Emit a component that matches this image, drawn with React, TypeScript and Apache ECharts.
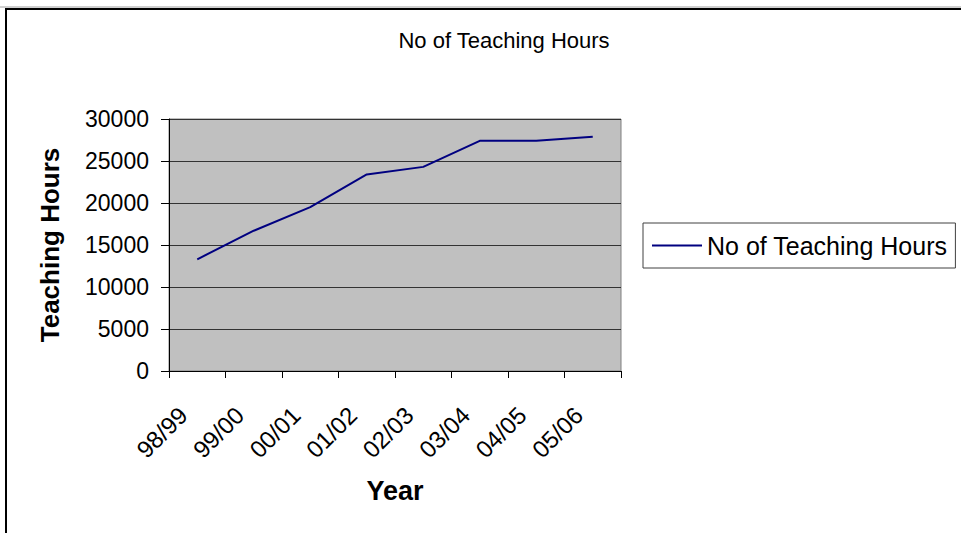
import React, { useEffect, useRef } from "react";
import * as echarts from "echarts";

const categories = ["98/99", "99/00", "00/01", "01/02", "02/03", "03/04", "04/05", "05/06"];
const teachingHours = [13300, 16700, 19500, 23400, 24300, 27400, 27400, 27900];
const seriesName = "No of Teaching Hours";
const chartTitle = "No of Teaching Hours";
const yAxisName = "Teaching Hours";
const xAxisName = "Year";

export default function App() {
  const ref = useRef<HTMLDivElement>(null);
  useEffect(() => {
    document.body.style.margin = "0";
    const chart = echarts.init(ref.current!, null, { renderer: "svg" });
    const font = "Arial, 'Liberation Sans', sans-serif";
    chart.setOption({
      animation: false,
      backgroundColor: "#ffffff",
      textStyle: { fontFamily: font },
      graphic: [
        { type: "line", shape: { x1: 0, y1: 7, x2: 961, y2: 7 }, style: { stroke: "#a0a0a0", lineWidth: 1 } },
        { type: "line", shape: { x1: 5, y1: 9, x2: 961, y2: 9 }, style: { stroke: "#000", lineWidth: 2 } },
        { type: "line", shape: { x1: 6, y1: 8, x2: 6, y2: 533 }, style: { stroke: "#000", lineWidth: 2 } },
        {
          type: "text",
          x: 504,
          y: 40,
          style: {
            text: chartTitle,
            font: `22px ${font}`,
            fill: "#000",
            align: "center",
            verticalAlign: "middle",
          },
        },
      ],
      legend: {
        left: 643,
        top: 223,
        padding: [10, 8, 10, 9],
        itemWidth: 50,
        itemHeight: 2,
        icon: "rect",
        borderColor: "#404040",
        borderWidth: 1,
        textStyle: { fontSize: 25, color: "#000", fontFamily: font, lineHeight: 24 },
        data: [seriesName],
      },
      grid: {
        left: 169,
        top: 119,
        width: 452,
        height: 252,
        show: true,
        backgroundColor: "#c0c0c0",
        borderColor: "#808080",
        borderWidth: 1,
        containLabel: false,
      },
      xAxis: {
        type: "category",
        data: categories,
        boundaryGap: true,
        name: xAxisName,
        nameLocation: "middle",
        nameGap: 106,
        nameTextStyle: { fontSize: 27, fontWeight: "bold", color: "#000", fontFamily: font },
        axisLine: { lineStyle: { color: "#000", width: 1 } },
        axisTick: { show: true, length: 7, lineStyle: { color: "#000" } },
        axisLabel: {
          rotate: 45,
          fontSize: 24,
          color: "#000",
          margin: 26,
          padding: [0, 20, 0, 0],
          interval: 0,
          fontFamily: font,
        },
        splitLine: { show: false },
      },
      yAxis: {
        type: "value",
        min: 0,
        max: 30000,
        interval: 5000,
        name: yAxisName,
        nameLocation: "middle",
        nameGap: 106,
        nameRotate: 90,
        nameTextStyle: { fontSize: 26, fontWeight: "bold", color: "#000", fontFamily: font },
        axisLine: { show: true, lineStyle: { color: "#000", width: 1 } },
        axisTick: { show: true, length: 8, lineStyle: { color: "#000" } },
        axisLabel: {
          fontSize: 23,
          color: "#000",
          margin: 20,
          fontFamily: font,
          formatter: (v: number) => String(v),
        },
        splitLine: { show: true, lineStyle: { color: "#333", width: 1 } },
      },
      series: [
        {
          name: seriesName,
          type: "line",
          data: teachingHours,
          symbol: "none",
          lineStyle: { color: "#000080", width: 2 },
          itemStyle: { color: "#000080" },
        },
      ],
    });
    return () => chart.dispose();
  }, []);
  return <div ref={ref} style={{ position: "absolute", left: 0, top: 0, width: 961, height: 533 }} />;
}
